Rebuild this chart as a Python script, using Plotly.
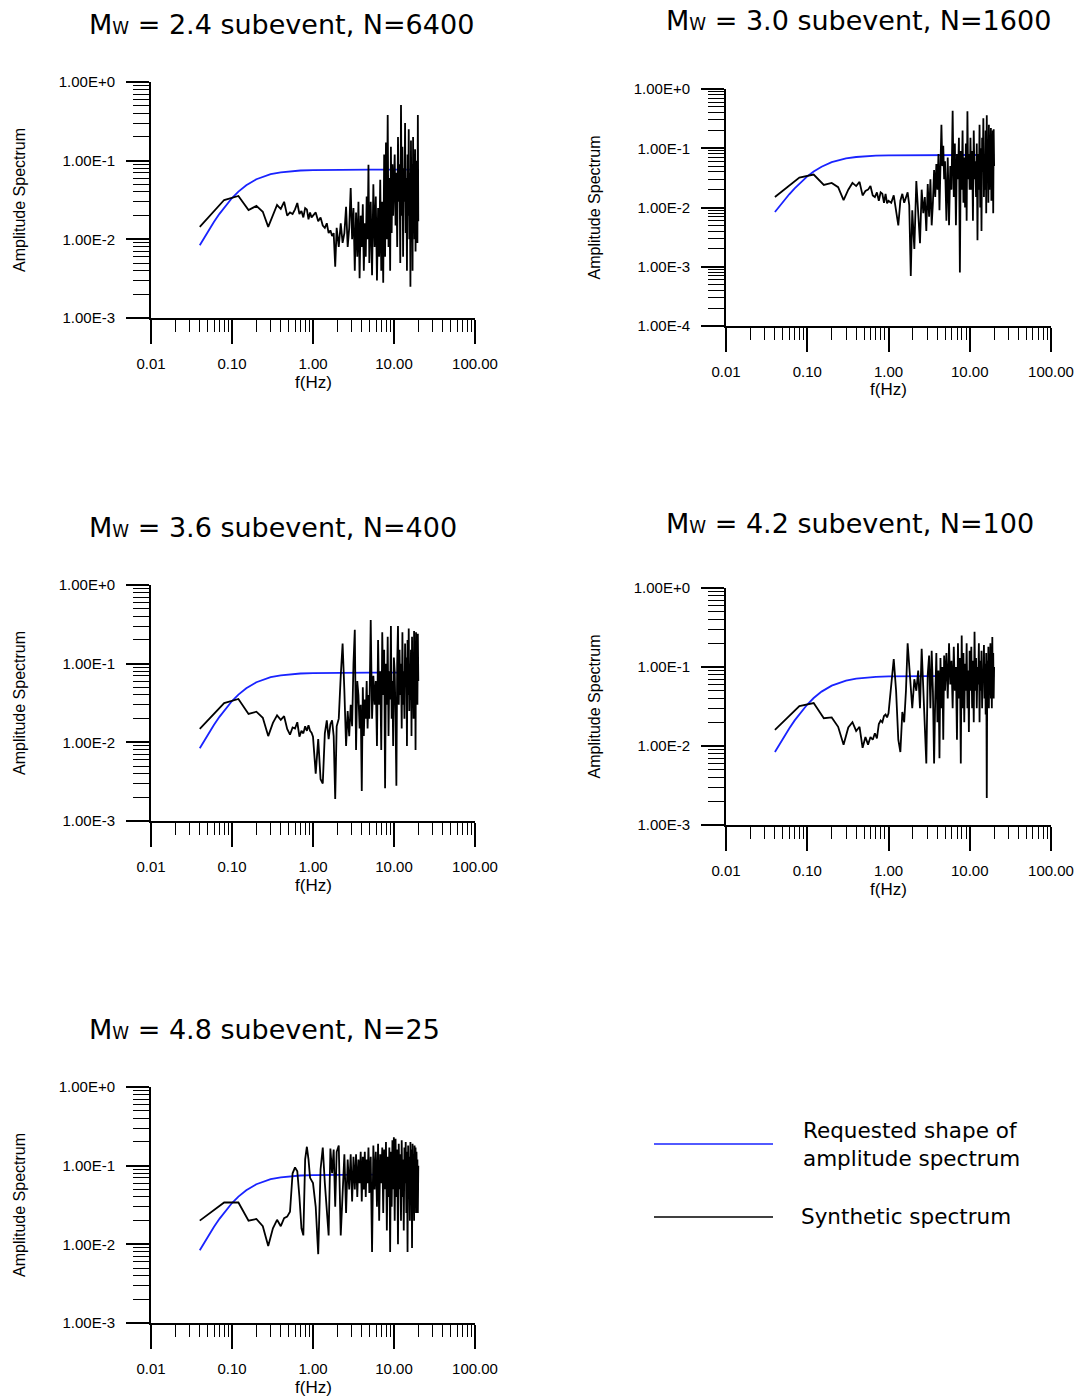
import plotly.graph_objects as go

# ---------------- data ----------------
freq = [
    0.04, 0.08, 0.12, 0.16, 0.20, 0.24, 0.28, 0.32, 0.36, 0.40, 0.44, 0.48, 0.52,
    0.56, 0.60, 0.64, 0.68, 0.72, 0.76, 0.80, 0.84, 0.88, 0.92, 0.96, 1.00,
    1.08, 1.16, 1.24, 1.32, 1.40, 1.48, 1.56, 1.64, 1.72, 1.80, 1.88, 1.96,
    2.08, 2.20, 2.32, 2.44, 2.56, 2.68, 2.80, 2.92, 3.04, 3.16, 3.28, 3.40, 3.52,
    3.64, 3.76, 3.88, 4.00, 4.12, 4.24, 4.36, 4.48, 4.60, 4.72, 4.84, 4.96,
    5.16, 5.36, 5.56, 5.76, 5.96, 6.16, 6.36, 6.56, 6.76, 6.96, 7.16, 7.36, 7.56,
    7.76, 7.96, 8.16, 8.36, 8.56, 8.76, 8.96, 9.16, 9.36, 9.56, 9.76, 9.96,
    10.20, 10.45, 10.70, 10.95, 11.20, 11.45, 11.70, 11.95, 12.20, 12.45, 12.70,
    12.95, 13.20, 13.45, 13.70, 13.95, 14.20, 14.45, 14.70, 14.95, 15.20, 15.45,
    15.70, 15.95, 16.20, 16.45, 16.70, 16.95, 17.20, 17.45, 17.70, 17.95, 18.20,
    18.45, 18.70, 18.95, 19.20, 19.45, 19.70, 19.95,
]

requested_freq = [0.04, 0.05, 0.06, 0.07, 0.08, 0.10, 0.12, 0.15, 0.20, 0.25,
                  0.30, 0.40, 0.50, 0.70, 1.00, 2.00, 5.00, 10.00, 20.00]
requested_amp = [0.0084, 0.0124, 0.0167, 0.0211, 0.0254, 0.0335, 0.0405, 0.0488,
                 0.0581, 0.0637, 0.0673, 0.0712, 0.0732, 0.0750, 0.0760, 0.0768,
                 0.0770, 0.0770, 0.0770]

synth_mw24 = [
    0.0144, 0.0316, 0.0356, 0.0235, 0.0266, 0.0224, 0.0144, 0.0205, 0.0273, 0.0243,
    0.030, 0.020, 0.022, 0.021, 0.024, 0.029, 0.021, 0.023, 0.019, 0.025, 0.024,
    0.018, 0.022, 0.019, 0.020,
    0.022, 0.017, 0.019, 0.015, 0.014, 0.016, 0.012, 0.013, 0.011, 0.012, 0.0045, 0.014,
    0.008, 0.016, 0.009, 0.012, 0.026, 0.008, 0.014, 0.045, 0.010, 0.025, 0.004, 0.022,
    0.006, 0.030, 0.0032, 0.020, 0.008, 0.028, 0.004, 0.016, 0.006, 0.035, 0.010, 0.089, 0.005,
    0.030, 0.0035, 0.050, 0.008, 0.035, 0.003, 0.025, 0.006, 0.057, 0.004, 0.030, 0.0028,
    0.120, 0.006, 0.170, 0.010, 0.380, 0.008, 0.060, 0.004, 0.150, 0.012, 0.090, 0.020, 0.050,
    0.120, 0.015, 0.070, 0.008, 0.200, 0.030, 0.090, 0.005, 0.510, 0.020, 0.150, 0.006,
    0.080, 0.030, 0.300, 0.012, 0.060, 0.004, 0.120, 0.020, 0.250, 0.010, 0.070, 0.0025,
    0.180, 0.015, 0.090, 0.004, 0.200, 0.030, 0.060, 0.010, 0.140, 0.007, 0.050, 0.020,
    0.100, 0.009, 0.380, 0.017,
]

synth_mw30 = [
    0.015, 0.032, 0.036, 0.024, 0.026, 0.022, 0.0133, 0.020, 0.026, 0.023, 0.027,
    0.016, 0.019, 0.020, 0.023, 0.016, 0.015, 0.018, 0.013, 0.018, 0.017, 0.012,
    0.017, 0.0118, 0.013,
    0.012, 0.016, 0.008, 0.005, 0.013, 0.017, 0.012, 0.015, 0.018, 0.011, 0.0007, 0.009,
    0.002, 0.028, 0.006, 0.0025, 0.020, 0.008, 0.015, 0.004, 0.025, 0.007, 0.030, 0.005,
    0.012, 0.043, 0.015, 0.054, 0.020, 0.080, 0.009, 0.100, 0.250, 0.050, 0.110, 0.030, 0.060,
    0.006, 0.070, 0.005, 0.050, 0.020, 0.430, 0.015, 0.120, 0.005, 0.080, 0.030, 0.150,
    0.0008, 0.090, 0.020, 0.200, 0.012, 0.070, 0.010, 0.120, 0.006, 0.420, 0.030, 0.080, 0.020,
    0.150, 0.020, 0.090, 0.006, 0.200, 0.030, 0.060, 0.015, 0.120, 0.0028, 0.080, 0.020,
    0.250, 0.010, 0.100, 0.004, 0.150, 0.040, 0.320, 0.015, 0.080, 0.020, 0.200, 0.008,
    0.360, 0.030, 0.120, 0.012, 0.250, 0.020, 0.090, 0.040, 0.220, 0.013, 0.150, 0.030,
    0.200, 0.008, 0.210, 0.050,
]

synth_mw36 = [
    0.0148, 0.0316, 0.0356, 0.023, 0.0245, 0.0205, 0.012, 0.0177, 0.022, 0.0193,
    0.0215, 0.0148, 0.0125, 0.0155, 0.015, 0.018, 0.0118, 0.014, 0.013, 0.016,
    0.014, 0.0165, 0.014, 0.0133, 0.0118,
    0.004, 0.011, 0.0034, 0.003, 0.013, 0.019, 0.011, 0.017, 0.019, 0.012, 0.0019, 0.016,
    0.020, 0.070, 0.180, 0.045, 0.009, 0.025, 0.012, 0.030, 0.016, 0.100, 0.270, 0.008,
    0.060, 0.040, 0.015, 0.030, 0.0024, 0.050, 0.012, 0.035, 0.020, 0.060, 0.015, 0.040, 0.020,
    0.360, 0.020, 0.070, 0.030, 0.060, 0.009, 0.200, 0.030, 0.080, 0.008, 0.250, 0.040,
    0.150, 0.0026, 0.100, 0.030, 0.220, 0.012, 0.080, 0.035, 0.300, 0.020, 0.060, 0.009, 0.120,
    0.080, 0.020, 0.0028, 0.100, 0.300, 0.030, 0.150, 0.040, 0.100, 0.015, 0.250, 0.030,
    0.080, 0.020, 0.180, 0.050, 0.120, 0.009, 0.200, 0.040, 0.280, 0.025, 0.100, 0.035,
    0.150, 0.012, 0.220, 0.030, 0.090, 0.020, 0.260, 0.040, 0.140, 0.008, 0.250, 0.050,
    0.120, 0.030, 0.240, 0.060,
]

synth_mw42 = [
    0.016, 0.032, 0.035, 0.0225, 0.023, 0.0175, 0.0104, 0.0172, 0.020, 0.0155,
    0.0175, 0.0095, 0.013, 0.0104, 0.013, 0.012, 0.0145, 0.0125, 0.019, 0.021,
    0.020, 0.024, 0.025, 0.023, 0.026,
    0.060, 0.126, 0.050, 0.012, 0.0084, 0.027, 0.020, 0.050, 0.200, 0.100, 0.060, 0.030,
    0.070, 0.050, 0.090, 0.030, 0.170, 0.060, 0.020, 0.006, 0.080, 0.140, 0.030, 0.160,
    0.050, 0.006, 0.040, 0.150, 0.020, 0.090, 0.007, 0.130, 0.030, 0.100, 0.012, 0.140, 0.050,
    0.150, 0.040, 0.200, 0.060, 0.120, 0.030, 0.180, 0.050, 0.100, 0.012, 0.200, 0.040,
    0.130, 0.006, 0.250, 0.030, 0.150, 0.020, 0.110, 0.050, 0.200, 0.030, 0.090, 0.015, 0.160,
    0.050, 0.180, 0.030, 0.120, 0.020, 0.280, 0.050, 0.130, 0.030, 0.100, 0.060, 0.200,
    0.020, 0.120, 0.050, 0.160, 0.030, 0.090, 0.070, 0.190, 0.040, 0.110, 0.025, 0.150,
    0.0022, 0.120, 0.050, 0.180, 0.030, 0.140, 0.060, 0.200, 0.040, 0.100, 0.030, 0.240,
    0.050, 0.150, 0.040, 0.100,
]

synth_mw48 = [
    0.020, 0.034, 0.034, 0.020, 0.021, 0.017, 0.0095, 0.016, 0.0205, 0.017, 0.0215,
    0.0225, 0.026, 0.080, 0.095, 0.085, 0.040, 0.016, 0.013, 0.120, 0.174, 0.120,
    0.070, 0.065, 0.060,
    0.030, 0.0075, 0.090, 0.170, 0.060, 0.025, 0.013, 0.165, 0.080, 0.160, 0.030, 0.150,
    0.180, 0.013, 0.060, 0.140, 0.025, 0.120, 0.050, 0.140, 0.035, 0.130, 0.050, 0.140,
    0.040, 0.120, 0.060, 0.150, 0.035, 0.130, 0.050, 0.150, 0.040, 0.120, 0.060, 0.170, 0.045,
    0.130, 0.008, 0.180, 0.050, 0.150, 0.030, 0.190, 0.020, 0.140, 0.060, 0.170, 0.025,
    0.160, 0.050, 0.200, 0.015, 0.130, 0.040, 0.170, 0.008, 0.150, 0.030, 0.210, 0.050, 0.230,
    0.020, 0.220, 0.040, 0.160, 0.010, 0.190, 0.050, 0.140, 0.020, 0.210, 0.040, 0.120,
    0.015, 0.170, 0.060, 0.200, 0.025, 0.150, 0.008, 0.180, 0.050, 0.130, 0.020, 0.200,
    0.040, 0.160, 0.009, 0.190, 0.050, 0.140, 0.020, 0.180, 0.040, 0.170, 0.025, 0.150,
    0.060, 0.120, 0.025, 0.100,
]

panel_titles = ["2.4 subevent, N=6400", "3.0 subevent, N=1600", "3.6 subevent, N=400",
                "4.2 subevent, N=100", "4.8 subevent, N=25"]
panel_synth = [synth_mw24, synth_mw30, synth_mw36, synth_mw42, synth_mw48]
panel_ymin_exp = [-3, -4, -3, -3, -3]

x_tick_vals = [0.01, 0.1, 1, 10, 100]
x_tick_text = ["0.01", "0.10", "1.00", "10.00", "100.00"]
y_label = {0: "1.00E+0", -1: "1.00E-1", -2: "1.00E-2", -3: "1.00E-3", -4: "1.00E-4"}

for s in panel_synth:
    assert len(s) == len(freq), len(s)

# ---------------- layout (pixels) ----------------
W, H = 1080, 1398
# (x_left, x_right, y_top, y_bottom, title_x, title_y)
boxes = [
    (151, 475, 82, 318, 87, 25),
    (726, 1051, 89, 326, 664, 21),
    (151, 475, 585, 821, 87, 527),
    (726, 1051, 588, 825, 664, 523),
    (151, 475, 1087, 1323, 87, 1029),
]

NARROW = "Liberation Sans, Arial, sans-serif"
TICK_FONT = dict(family=NARROW, size=15, color="black")
TITLE_FONT = dict(family="DejaVu Sans, Verdana, sans-serif", size=27, color="black")

def px_x(p):
    return p / W

def px_y(p):
    return 1 - p / H

fig = go.Figure()
annotations = []
layout_axes = {}

x_minor = [m * 10 ** e for e in range(-2, 2) for m in range(2, 10)]

for i, (x0, x1, yt, yb, tx, ty) in enumerate(boxes):
    n = i + 1
    xa = "x" if n == 1 else f"x{n}"
    ya = "y" if n == 1 else f"y{n}"
    fig.add_trace(go.Scatter(x=requested_freq, y=requested_amp, mode="lines",
                             line=dict(color="rgb(25,35,255)", width=1.8),
                             xaxis=xa, yaxis=ya, showlegend=False))
    fig.add_trace(go.Scatter(x=freq, y=panel_synth[i], mode="lines",
                             line=dict(color="black", width=1.8),
                             xaxis=xa, yaxis=ya, showlegend=False))
    ymin = panel_ymin_exp[i]
    y_major = [10 ** e for e in range(ymin, 1)]
    y_text = [y_label[e] for e in range(ymin, 1)]
    y_minor = [m * 10 ** e for e in range(ymin, 0) for m in range(2, 10)]
    xkey = "xaxis" if n == 1 else f"xaxis{n}"
    ykey = "yaxis" if n == 1 else f"yaxis{n}"
    layout_axes[xkey] = dict(
        type="log", range=[-2, 2], domain=[px_x(x0), px_x(x1)], anchor=ya,
        automargin=False,
        showline=True, linecolor="black", linewidth=2, showgrid=False, zeroline=False,
        ticks="outside", ticklen=24, tickwidth=1.6, tickcolor="black",
        tickmode="array", tickvals=x_tick_vals, ticktext=x_tick_text,
        tickfont=TICK_FONT, ticklabelstandoff=7,
        minor=dict(tickmode="array", tickvals=x_minor, ticks="outside", ticklen=12,
                   tickwidth=1.4, tickcolor="black", showgrid=False),
        fixedrange=True,
    )
    layout_axes[ykey] = dict(
        type="log", range=[ymin, 0], domain=[px_y(yb), px_y(yt)], anchor=xa,
        automargin=False,
        showline=True, linecolor="black", linewidth=2, showgrid=False, zeroline=False,
        ticks="outside", ticklen=23, tickwidth=1.6, tickcolor="black",
        tickmode="array", tickvals=y_major, ticktext=y_text,
        tickfont=TICK_FONT, ticklabelstandoff=8,
        minor=dict(tickmode="array", tickvals=y_minor, ticks="outside", ticklen=16,
                   tickwidth=1.4, tickcolor="black", showgrid=False),
        fixedrange=True,
    )
    # panel title
    annotations.append(dict(
        text=f"M<span style='font-size:17px'>W</span> = {panel_titles[i]}",
        x=px_x(tx), y=px_y(ty), xref="paper", yref="paper",
        xanchor="left", yanchor="middle", showarrow=False, font=TITLE_FONT))
    # y axis title
    annotations.append(dict(
        text="Amplitude Spectrum", textangle=-90,
        x=px_x(x0 - 132), y=px_y((yt + yb) / 2), xref="paper", yref="paper",
        xanchor="center", yanchor="middle", showarrow=False,
        font=dict(family=NARROW, size=16, color="black")))
    # x axis title
    annotations.append(dict(
        text="f(Hz)", x=px_x((x0 + x1) / 2), y=px_y(yb + 64),
        xref="paper", yref="paper", xanchor="center", yanchor="middle",
        showarrow=False, font=dict(family=NARROW, size=17, color="black")))

# legend (drawn manually)
LEG_FONT = dict(family="DejaVu Sans, Verdana, sans-serif", size=21.5, color="black")
shapes = [
    dict(type="line", xref="paper", yref="paper", x0=px_x(654), x1=px_x(773),
         y0=px_y(1144), y1=px_y(1144), line=dict(color="rgb(25,35,255)", width=1.6)),
    dict(type="line", xref="paper", yref="paper", x0=px_x(654), x1=px_x(773),
         y0=px_y(1217), y1=px_y(1217), line=dict(color="black", width=1.6)),
]
annotations.append(dict(text="Requested shape of<br>amplitude spectrum",
                        x=px_x(801), y=px_y(1144), xref="paper", yref="paper",
                        xanchor="left", yanchor="middle", align="left",
                        showarrow=False, font=LEG_FONT))
annotations.append(dict(text="Synthetic spectrum",
                        x=px_x(799), y=px_y(1216), xref="paper", yref="paper",
                        xanchor="left", yanchor="middle", align="left",
                        showarrow=False, font=LEG_FONT))

fig.update_layout(
    width=W, height=H, margin=dict(l=0, r=0, t=0, b=0, autoexpand=False),
    paper_bgcolor="white", plot_bgcolor="white",
    showlegend=False, annotations=annotations, shapes=shapes,
    **layout_axes,
)

fig.write_html("out.html", config={"displayModeBar": False})
